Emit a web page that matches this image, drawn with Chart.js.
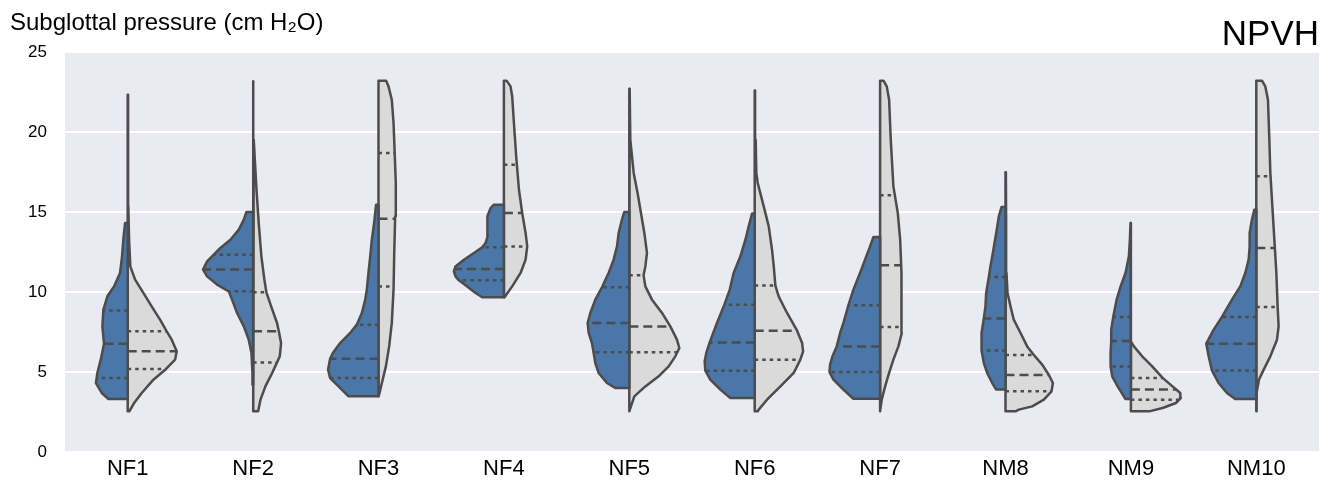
<!DOCTYPE html>
<html>
<head>
<meta charset="utf-8">
<script src="https://cdn.jsdelivr.net/npm/chart.js@4.4.1/dist/chart.umd.min.js"></script>
<style>
  html, body { margin: 0; padding: 0; background: #ffffff; }
  #wrap { width: 1337px; height: 485px; }
</style>
</head>
<body>
<div id="wrap"><canvas id="chart" width="1337" height="485"></canvas></div>
<script>
// Speakers along the x axis
const categories = ['NF1', 'NF2', 'NF3', 'NF4', 'NF5', 'NF6', 'NF7', 'NM8', 'NM9', 'NM10'];
const axisTitle = 'Subglottal pressure (cm H\u2082O)';
const panelTitle = 'NPVH';
const yTicks = [0, 5, 10, 15, 20, 25];

// Density outline of the left (blue) half: [pressure, half-width in category units]
const blueProfiles = [
  [[3.31,0.154],[3.69,0.207],[4.31,0.253],[4.94,0.242],[5.77,0.215],[6.77,0.189],[7.85,0.202],[8.9,0.194],[9.73,0.162],[10.35,0.109],[11.19,0.061],[12.23,0.045],[13.27,0.035],[14.31,0.021]],
  [[4.21,0.003],[4.94,0.005],[6.19,0.013],[7.02,0.035],[7.85,0.074],[8.69,0.128],[9.52,0.168],[10.04,0.194],[10.46,0.287],[10.98,0.367],[11.4,0.399],[11.92,0.367],[12.33,0.314],[12.75,0.261],[13.27,0.181],[13.9,0.114],[14.52,0.074],[15.0,0.053]],
  [[3.48,0.239],[4.1,0.319],[4.62,0.386],[5.15,0.402],[5.83,0.386],[6.19,0.364],[6.81,0.306],[7.44,0.226],[7.96,0.173],[8.69,0.133],[9.52,0.106],[10.15,0.093],[11.19,0.08],[12.23,0.066],[13.27,0.053],[14.31,0.035],[15.46,0.019]],
  [[9.67,0.173],[9.94,0.226],[10.35,0.293],[10.73,0.359],[10.98,0.386],[11.29,0.399],[11.6,0.386],[12.02,0.319],[12.44,0.239],[12.79,0.173],[13.06,0.146],[13.48,0.13],[14.1,0.133],[14.73,0.13],[15.25,0.106],[15.46,0.08]],
  [[4.0,0.112],[4.31,0.178],[4.94,0.245],[5.56,0.271],[6.23,0.285],[6.81,0.298],[7.44,0.324],[8.06,0.332],[8.69,0.311],[9.52,0.271],[10.29,0.218],[11.19,0.165],[12.02,0.125],[12.85,0.098],[13.69,0.085],[14.52,0.059],[15.0,0.04]],
  [[3.37,0.194],[3.9,0.274],[4.52,0.354],[5.08,0.394],[5.67,0.399],[6.19,0.386],[6.85,0.359],[8.06,0.301],[9.21,0.242],[10.15,0.199],[11.19,0.168],[12.23,0.114],[13.27,0.074],[14.1,0.048],[14.9,0.021]],
  [[3.33,0.213],[3.9,0.293],[4.52,0.372],[5.0,0.404],[5.46,0.399],[5.98,0.38],[6.6,0.346],[7.44,0.319],[8.06,0.293],[9.17,0.253],[10.15,0.213],[11.19,0.16],[12.02,0.12],[12.85,0.08],[13.44,0.053]],
  [[3.9,0.074],[4.31,0.106],[4.94,0.146],[5.56,0.173],[6.35,0.191],[7.44,0.191],[8.35,0.173],[9.1,0.16],[9.94,0.154],[10.94,0.133],[11.6,0.12],[12.44,0.101],[13.69,0.074],[14.73,0.053],[15.31,0.032]],
  [[3.31,0.043],[4.1,0.106],[4.73,0.149],[5.35,0.162],[6.19,0.162],[6.94,0.157],[7.65,0.157],[8.44,0.141],[9.52,0.114],[10.35,0.082],[11.19,0.043],[12.23,0.016],[13.27,0.008],[14.31,0.003]],
  [[3.31,0.168],[3.69,0.234],[4.31,0.301],[5.1,0.354],[5.98,0.38],[6.77,0.399],[7.65,0.34],[8.44,0.274],[9.52,0.194],[10.35,0.128],[11.19,0.088],[12.02,0.061],[12.85,0.053],[13.69,0.053],[14.52,0.035],[15.14,0.016]]
];

// Density outline of the right (grey) half: [pressure, half-width in category units]
const greyProfiles = [
  [[2.54,0.013],[3.06,0.051],[3.69,0.112],[4.52,0.205],[5.19,0.306],[5.77,0.378],[6.29,0.391],[7.02,0.351],[7.54,0.311],[8.27,0.258],[9.1,0.191],[9.94,0.125],[10.77,0.059],[11.6,0.021],[13.27,0.011],[15.35,0.005],[17.44,0.003],[22.33,0.003]],
  [[2.54,0.04],[3.27,0.059],[4.1,0.098],[4.94,0.152],[5.6,0.191],[5.98,0.213],[6.81,0.223],[7.54,0.205],[8.06,0.191],[9.1,0.144],[9.98,0.106],[10.77,0.09],[12.23,0.066],[14.31,0.045],[16.4,0.027],[19.52,0.005],[23.17,0.003]],
  [[3.48,0.003],[3.58,0.005],[4.31,0.027],[5.35,0.059],[6.6,0.085],[8.06,0.106],[10.15,0.12],[12.23,0.125],[14.73,0.133],[16.81,0.138],[18.48,0.13],[20.56,0.12],[22.02,0.106],[22.85,0.08],[23.21,0.061]],
  [[9.67,0.005],[10.35,0.066],[11.19,0.133],[12.02,0.173],[12.85,0.186],[13.69,0.173],[14.94,0.146],[16.4,0.12],[18.48,0.098],[20.56,0.08],[22.23,0.066],[22.85,0.053],[23.21,0.021]],
  [[2.54,0.005],[2.85,0.013],[3.48,0.04],[4.1,0.128],[4.73,0.234],[5.35,0.314],[5.98,0.367],[6.5,0.399],[7.02,0.38],[7.85,0.327],[8.69,0.261],[9.52,0.181],[10.35,0.128],[11.04,0.114],[11.6,0.128],[12.44,0.141],[13.69,0.12],[14.94,0.093],[16.19,0.066],[17.44,0.035],[19.52,0.008],[22.71,0.003]],
  [[2.54,0.024],[2.65,0.032],[3.27,0.098],[4.1,0.205],[4.94,0.311],[5.77,0.364],[6.29,0.386],[6.81,0.378],[7.58,0.338],[8.69,0.258],[9.73,0.191],[10.4,0.165],[11.6,0.152],[12.65,0.138],[14.1,0.112],[15.35,0.072],[16.81,0.024],[17.44,0.013],[19.52,0.008],[22.6,0.003]],
  [[2.54,0.005],[3.27,0.013],[4.1,0.04],[4.94,0.072],[5.77,0.106],[6.6,0.146],[7.44,0.173],[9.1,0.173],[11.19,0.168],[13.27,0.16],[14.94,0.141],[16.6,0.106],[19.52,0.085],[22.02,0.072],[22.85,0.053],[23.21,0.027]],
  [[2.54,0.08],[2.65,0.106],[2.85,0.213],[3.27,0.306],[3.79,0.367],[4.31,0.378],[4.81,0.346],[5.46,0.293],[6.06,0.226],[6.6,0.173],[7.44,0.12],[8.27,0.066],[9.1,0.04],[9.94,0.016],[11.19,0.008],[14.31,0.005],[17.48,0.003]],
  [[2.54,0.146],[2.75,0.253],[3.06,0.359],[3.38,0.399],[3.69,0.394],[4.1,0.332],[4.63,0.253],[5.35,0.17],[5.98,0.09],[6.6,0.024],[6.92,0.0]],
  [[2.54,0.0],[3.69,0.005],[4.52,0.021],[5.15,0.059],[5.98,0.112],[7.02,0.165],[7.85,0.178],[9.1,0.17],[11.19,0.16],[13.27,0.144],[15.35,0.128],[17.44,0.112],[19.52,0.104],[22.02,0.093],[22.85,0.072],[23.21,0.045]]
];

// Quartiles of each half
const blueQ1     = [4.62, 10.04, 4.62, 10.73, 6.23, 5.08, 5.00, 6.35, 5.35, 5.10];
const blueMedian = [6.77, 11.40, 5.83, 11.44, 8.06, 6.85, 6.60, 8.35, 6.94, 6.77];
const blueQ3     = [8.85, 12.33, 7.96, 12.79, 10.29, 9.21, 9.17, 10.94, 8.44, 8.44];
const greyQ1     = [5.19, 5.60, 10.35, 12.85, 6.23, 5.77, 7.81, 3.79, 3.27, 9.06];
const greyMedian = [6.29, 7.54, 14.58, 14.94, 7.85, 7.58, 11.67, 4.81, 3.90, 12.75];
const greyQ3     = [7.54, 9.98, 18.69, 17.96, 11.04, 10.40, 16.04, 6.06, 4.63, 17.23];

const BLUE = '#4a76a8';
const GREY = '#dadada';
const EDGE = '#4c4c4c';

// Half-width of a profile at a given pressure (linear between outline samples)
function halfWidthAt(profile, y) {
  if (y <= profile[0][0]) return profile[0][1];
  for (let k = 1; k < profile.length; k++) {
    const [y1, w1] = profile[k];
    if (y <= y1) {
      const [y0, w0] = profile[k - 1];
      return w0 + (w1 - w0) * (y - y0) / (y1 - y0);
    }
  }
  return profile[profile.length - 1][1];
}

// Closed outline of one half violin: centre line -> outer edge -> centre line
function halfShape(i, profile, side) {
  const yMin = profile[0][0];
  const yMax = profile[profile.length - 1][0];
  const pts = [{x: i, y: yMin}];
  profile.forEach(([y, w]) => pts.push({x: i + side * w, y}));
  pts.push({x: i, y: yMax});
  pts.push({x: i, y: yMin});
  return pts;
}

const datasets = [];
categories.forEach((cat, i) => {
  [[blueProfiles[i], -1, BLUE], [greyProfiles[i], 1, GREY]].forEach(([profile, side, color]) => {
    datasets.push({
      data: halfShape(i, profile, side),
      backgroundColor: color,
      borderColor: EDGE,
      borderWidth: 2.5,
      borderJoinStyle: 'round',
      fill: 'shape',
      pointRadius: 0,
      tension: 0,
      order: 1
    });
  });
  const lines = [
    [blueProfiles[i], -1, blueQ1[i], [3.5, 4]],
    [blueProfiles[i], -1, blueMedian[i], [9, 5]],
    [blueProfiles[i], -1, blueQ3[i], [3.5, 4]],
    [greyProfiles[i], 1, greyQ1[i], [3.5, 4]],
    [greyProfiles[i], 1, greyMedian[i], [9, 5]],
    [greyProfiles[i], 1, greyQ3[i], [3.5, 4]]
  ];
  lines.forEach(([profile, side, q, dash]) => {
    datasets.push({
      data: [{x: i, y: q}, {x: i + side * halfWidthAt(profile, q), y: q}],
      borderColor: EDGE,
      borderWidth: 2.5,
      borderDash: dash,
      fill: false,
      pointRadius: 0,
      order: 0
    });
  });
});

const plotBackground = {
  id: 'plotBackground',
  beforeDraw(chart) {
    const {ctx, chartArea: a} = chart;
    ctx.save();
    ctx.fillStyle = '#eaeaf2';
    ctx.fillRect(a.left, a.top, a.right - a.left, a.bottom - a.top);
    ctx.restore();
  }
};

const headerText = {
  id: 'headerText',
  afterDraw(chart) {
    const {ctx, chartArea} = chart;
    ctx.save();
    ctx.fillStyle = '#000000';
    ctx.textBaseline = 'alphabetic';
    ctx.textAlign = 'left';
    ctx.font = '24px "Liberation Sans", Arial, sans-serif';
    ctx.fillText(axisTitle, 10, 30);
    ctx.textAlign = 'right';
    ctx.font = '35px "Liberation Sans", Arial, sans-serif';
    ctx.fillText(panelTitle, chartArea.right, 45);
    ctx.restore();
  }
};

new Chart(document.getElementById('chart'), {
  type: 'line',
  data: {datasets},
  options: {
    responsive: false,
    animation: false,
    devicePixelRatio: 1,
    events: [],
    layout: {padding: {top: 52, right: 18, left: 0, bottom: 0}},
    plugins: {legend: {display: false}, tooltip: {enabled: false}},
    scales: {
      x: {
        type: 'linear',
        min: -0.5,
        max: 9.5,
        afterBuildTicks(scale) { scale.ticks = categories.map((c, i) => ({value: i})); },
        afterFit(scale) { scale.height = 33; },
        ticks: {
          callback: (v) => categories[v],
          font: {family: '"Liberation Sans", Arial, sans-serif', size: 22},
          color: '#000000',
          padding: 4,
          maxRotation: 0,
          autoSkip: false
        },
        grid: {display: false, drawTicks: false},
        border: {display: false}
      },
      y: {
        min: 0,
        max: 25,
        afterBuildTicks(scale) { scale.ticks = yTicks.map(v => ({value: v})); },
        afterFit(scale) { scale.width = 65; },
        ticks: {
          font: {family: '"Liberation Sans", Arial, sans-serif', size: 17},
          color: '#000000',
          padding: 18
        },
        grid: {color: '#ffffff', lineWidth: 2, drawTicks: false},
        border: {display: false}
      }
    }
  },
  plugins: [plotBackground, headerText]
});
</script>
</body>
</html>
